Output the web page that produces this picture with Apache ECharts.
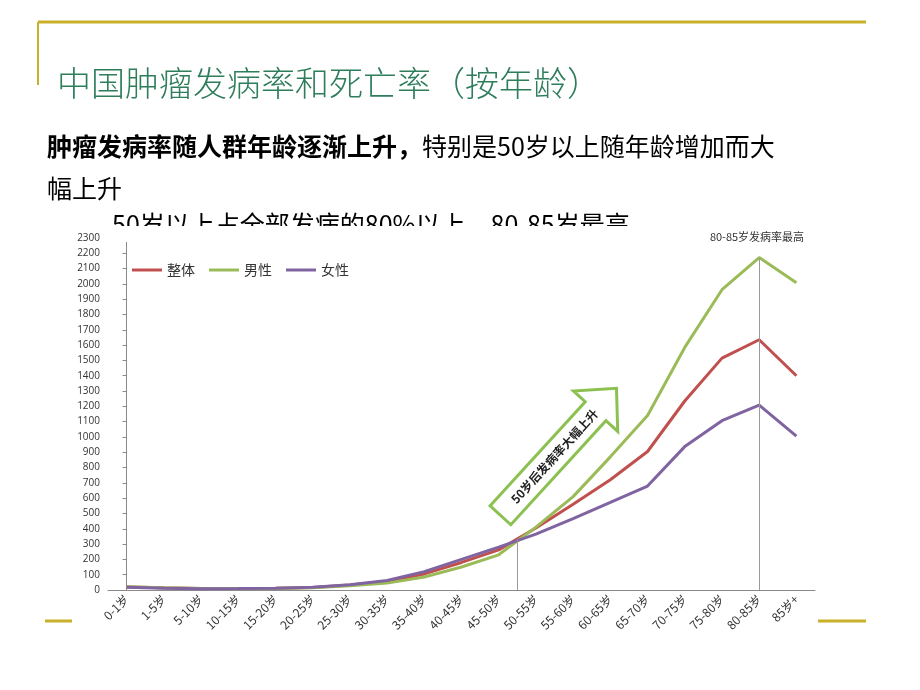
<!DOCTYPE html>
<html>
<head>
<meta charset="utf-8">
<script src="https://cdn.jsdelivr.net/npm/echarts@6/dist/echarts.min.js"></script>
<style>
  html, body { margin: 0; padding: 0; background: #fff; }
  #main { width: 920px; height: 690px; }
</style>
</head>
<body>
<div id="main"></div>
<script>
// 年龄段
var categories = ['0-1岁', '1-5岁', '5-10岁', '10-15岁', '15-20岁', '20-25岁', '25-30岁', '30-35岁', '35-40岁',
  '40-45岁', '45-50岁', '50-55岁', '55-60岁', '60-65岁', '65-70岁', '70-75岁', '75-80岁', '80-85岁', '85岁+'];
// 发病率（1/10万）
var totalRate = [20, 14, 9, 9, 11, 17, 32, 55, 105, 180, 262, 405, 560, 720, 905, 1235, 1515, 1635, 1400];
var maleRate = [22, 15, 9, 9, 10, 15, 28, 45, 85, 150, 230, 411, 610, 870, 1140, 1585, 1962, 2172, 2007];
var femaleRate = [18, 12, 8, 9, 12, 18, 35, 62, 120, 200, 280, 365, 466, 572, 679, 937, 1106, 1208, 1006];
var seriesNames = ['整体', '男性', '女性'];
// 参考竖线：50岁处 与 80-85岁峰值
var refLines = [[10.5, 330], [17, 2172]];

var gold = '#c8b02a';
var cjk = '"Noto Sans CJK SC", sans-serif';

var chart = echarts.init(document.getElementById('main'));

var option = {
  backgroundColor: '#fff',
  animation: false,
  legend: {
    data: seriesNames,
    left: 127,
    top: 258,
    icon: 'rect',
    itemWidth: 30,
    itemHeight: 3,
    itemGap: 14,
    textStyle: { fontSize: 14, color: '#333', fontFamily: cjk }
  },
  grid: { left: 108, right: 105, top: 238, bottom: 100 },
  xAxis: [
    {
      type: 'category',
      data: categories,
      boundaryGap: true,
      axisLine: { lineStyle: { color: '#8a8a8a' } },
      axisTick: { length: 4, lineStyle: { color: '#8a8a8a' } },
      axisLabel: { rotate: 45, fontSize: 12, color: '#333', fontFamily: cjk, margin: 7, interval: 0 }
    },
    { type: 'value', min: -0.5, max: 18.5, show: false }
  ],
  yAxis: {
    type: 'value',
    min: 0,
    max: 2300,
    interval: 100,
    axisLine: { show: true, lineStyle: { color: '#8a8a8a' } },
    axisTick: { show: true, length: 4, lineStyle: { color: '#8a8a8a' } },
    splitLine: { show: false },
    axisLabel: {
      fontSize: 10, color: '#333', fontFamily: '"Open Sans", sans-serif', margin: 8,
      formatter: function (v) { return String(v); }
    }
  },
  series: [
    {
      name: '整体', type: 'line', data: totalRate, showSymbol: false,
      lineStyle: { width: 3, color: '#c0504d' }, itemStyle: { color: '#c0504d' }
    },
    {
      name: '男性', type: 'line', data: maleRate, showSymbol: false,
      lineStyle: { width: 3, color: '#9bbb59' }, itemStyle: { color: '#9bbb59' }
    },
    {
      name: '女性', type: 'line', data: femaleRate, showSymbol: false,
      lineStyle: { width: 3, color: '#8064a2' }, itemStyle: { color: '#8064a2' }
    },
    {
      type: 'line', xAxisIndex: 1, data: [[10.5, 0]], showSymbol: false,
      lineStyle: { opacity: 0 }, silent: true,
      markLine: {
        symbol: 'none',
        silent: true,
        label: { show: false },
        lineStyle: { color: '#999', width: 1, type: 'solid' },
        data: refLines.map(function (p) {
          return [{ coord: [p[0], 0] }, { coord: [p[0], p[1]] }];
        })
      }
    }
  ],
  graphic: [
    // 幻灯片装饰线
    { type: 'line', shape: { x1: 38, y1: 22, x2: 866, y2: 22 }, style: { stroke: gold, lineWidth: 3 } },
    { type: 'line', shape: { x1: 38, y1: 22, x2: 38, y2: 85 }, style: { stroke: gold, lineWidth: 2 } },
    { type: 'line', shape: { x1: 45, y1: 621, x2: 72, y2: 621 }, style: { stroke: gold, lineWidth: 3 } },
    { type: 'line', shape: { x1: 818, y1: 621, x2: 866, y2: 621 }, style: { stroke: gold, lineWidth: 3 } },
    {
      type: 'text', left: 57, top: 66,
      style: { text: '中国肿瘤发病率和死亡率（按年龄）', fontSize: 34, fontWeight: 300, fill: '#2e7d5b', fontFamily: cjk }
    },
    {
      type: 'text', left: 47, top: 134,
      style: {
        text: '{b|肿瘤发病率随人群年龄逐渐上升，}特别是50岁以上随年龄增加而大',
        fontSize: 25, fill: '#000', fontFamily: cjk,
        rich: { b: { fontSize: 25, fontWeight: 'bold', fill: '#000', fontFamily: cjk } }
      }
    },
    {
      type: 'text', left: 47, top: 176,
      style: { text: '幅上升', fontSize: 25, fill: '#000', fontFamily: cjk }
    },
    {
      type: 'text', left: 112, top: 212, z: 1,
      style: { text: '50岁以上占全部发病的80%以上，80-85岁最高', fontSize: 25, fill: '#000', fontFamily: cjk }
    },
    // 图片区域遮住第三行文字下半部分
    { type: 'rect', shape: { x: 110, y: 226, width: 560, height: 16 }, style: { fill: '#fff' }, z: 2 },
    {
      type: 'text', x: 757, y: 237, z: 3,
      style: { text: '80-85岁发病率最高', fontSize: 11, fill: '#333', fontFamily: cjk, align: 'center', verticalAlign: 'middle' }
    },
    // 箭头
    {
      type: 'group', x: 500.5, y: 515.3, rotation: 47.6 * Math.PI / 180, z: 10,
      children: [
        {
          type: 'polygon',
          shape: { points: [[0, -14], [141, -14], [141, -30], [172, 0], [141, 30], [141, 14], [0, 14]] },
          style: { fill: '#fff', stroke: '#8cc152', lineWidth: 3 }
        },
        {
          type: 'text', x: 80, y: 0,
          style: {
            text: '50岁后发病率大幅上升', fontSize: 12, fontWeight: 'bold', fill: '#222',
            fontFamily: cjk, align: 'center', verticalAlign: 'middle'
          }
        }
      ]
    }
  ]
};

chart.setOption(option);
</script>
</body>
</html>
